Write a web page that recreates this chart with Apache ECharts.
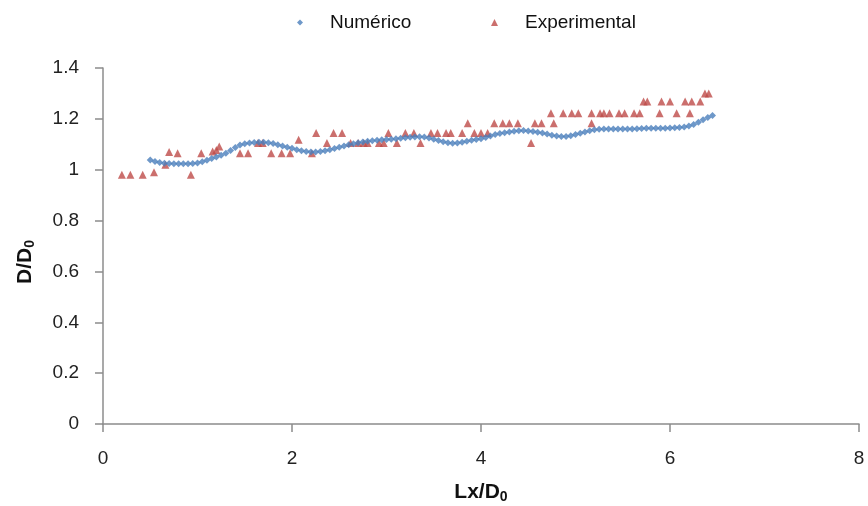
<!DOCTYPE html>
<html>
<head>
<meta charset="utf-8">
<script src="https://cdn.jsdelivr.net/npm/echarts@6/dist/echarts.min.js"></script>
<style>html,body{margin:0;padding:0;background:#fff}#c{width:868px;height:506px}</style>
</head>
<body>
<div id="c"></div>
<script>
var numX = [0.50,0.55,0.60,0.65,0.70,0.75,0.80,0.85,0.90,0.95,1.00,1.05,1.10,1.15,1.20,1.25,1.30,1.35,1.40,1.45,1.50,1.55,1.60,1.65,1.70,1.75,1.80,1.85,1.90,1.95,2.00,2.05,2.10,2.15,2.20,2.25,2.30,2.35,2.40,2.45,2.50,2.55,2.60,2.65,2.70,2.75,2.80,2.85,2.90,2.95,3.00,3.05,3.10,3.15,3.20,3.25,3.30,3.35,3.40,3.45,3.50,3.55,3.60,3.65,3.70,3.75,3.80,3.85,3.90,3.95,4.00,4.05,4.10,4.15,4.20,4.25,4.30,4.35,4.40,4.45,4.50,4.55,4.60,4.65,4.70,4.75,4.80,4.85,4.90,4.95,5.00,5.05,5.10,5.15,5.20,5.25,5.30,5.35,5.40,5.45,5.50,5.55,5.60,5.65,5.70,5.75,5.80,5.85,5.90,5.95,6.00,6.05,6.10,6.15,6.20,6.25,6.30,6.35,6.40,6.45];
var numY = [1.038,1.032,1.028,1.025,1.024,1.023,1.023,1.023,1.023,1.024,1.026,1.031,1.037,1.044,1.050,1.057,1.065,1.076,1.087,1.097,1.102,1.105,1.107,1.108,1.108,1.106,1.103,1.098,1.093,1.088,1.084,1.079,1.075,1.072,1.070,1.070,1.072,1.075,1.079,1.083,1.088,1.093,1.098,1.102,1.106,1.109,1.112,1.114,1.116,1.118,1.119,1.120,1.122,1.124,1.126,1.128,1.129,1.130,1.129,1.125,1.120,1.115,1.110,1.106,1.104,1.105,1.108,1.112,1.116,1.119,1.122,1.127,1.133,1.138,1.142,1.145,1.148,1.151,1.153,1.154,1.152,1.150,1.147,1.144,1.140,1.136,1.133,1.131,1.131,1.134,1.138,1.143,1.148,1.153,1.157,1.159,1.160,1.160,1.160,1.160,1.160,1.160,1.160,1.161,1.162,1.163,1.163,1.163,1.163,1.163,1.164,1.165,1.166,1.168,1.172,1.178,1.187,1.196,1.205,1.213];
var expX = [0.20,0.29,0.42,0.54,0.66,0.70,0.79,0.93,1.04,1.16,1.20,1.23,1.45,1.535,1.64,1.69,1.78,1.89,1.98,2.07,2.21,2.255,2.37,2.44,2.53,2.62,2.70,2.76,2.80,2.92,2.97,3.02,3.11,3.20,3.29,3.36,3.47,3.54,3.63,3.68,3.80,3.86,3.93,4.00,4.07,4.14,4.23,4.30,4.39,4.53,4.57,4.64,4.74,4.77,4.87,4.96,5.03,5.17,5.17,5.26,5.30,5.36,5.46,5.52,5.62,5.68,5.72,5.76,5.89,5.91,6.00,6.07,6.16,6.21,6.23,6.32,6.37,6.41];
var expY = [0.98,0.98,0.98,0.99,1.02,1.07,1.065,0.98,1.065,1.072,1.078,1.091,1.065,1.065,1.105,1.105,1.065,1.065,1.065,1.118,1.065,1.144,1.105,1.144,1.144,1.105,1.105,1.105,1.105,1.105,1.105,1.144,1.105,1.144,1.144,1.105,1.144,1.144,1.144,1.144,1.144,1.183,1.144,1.144,1.144,1.183,1.183,1.183,1.183,1.105,1.183,1.183,1.222,1.183,1.222,1.222,1.222,1.183,1.222,1.222,1.222,1.222,1.222,1.222,1.222,1.222,1.268,1.268,1.222,1.268,1.268,1.222,1.268,1.222,1.268,1.268,1.30,1.30];
var seriesNames = ['Numérico', 'Experimental'];
var xTicks = [0, 2, 4, 6, 8];
var yTicks = [0, 0.2, 0.4, 0.6, 0.8, 1, 1.2, 1.4];

function pairs(xs, ys) { return xs.map(function (x, i) { return [x, ys[i]]; }); }

var chart = echarts.init(document.getElementById('c'), null, {renderer: 'canvas'});
var font = '"Liberation Sans", Arial, sans-serif';
var legendText = {fontSize: 19, color: '#111', fontFamily: font, padding: [0, 0, 0, 22]};
chart.setOption({
  animation: false,
  textStyle: {fontFamily: font},
  legend: [
    {data: [{name: seriesNames[0], icon: 'diamond'}], left: 292, top: 8, itemWidth: 6, itemHeight: 6,
     textStyle: legendText},
    {data: [{name: seriesNames[1], icon: 'triangle'}], left: 486, top: 8, itemWidth: 7, itemHeight: 7,
     textStyle: legendText}
  ],
  grid: {left: 103, right: 9, top: 68, bottom: 82, containLabel: false, outerBoundsMode: 'none'},
  xAxis: {
    type: 'value', min: xTicks[0], max: xTicks[xTicks.length - 1], interval: 2,
    name: 'Lx/D{s|0}', nameLocation: 'middle', nameGap: 56,
    nameTextStyle: {fontSize: 21, fontWeight: 'bold', color: '#111',
      rich: {s: {fontSize: 14, fontWeight: 'bold', color: '#111', padding: [10, 0, 0, 0]}}},
    axisLine: {lineStyle: {color: '#8c8c8c', width: 1.5}},
    axisTick: {show: true, length: 8, lineStyle: {color: '#8c8c8c', width: 1.5}},
    axisLabel: {fontSize: 19, color: '#222', margin: 25},
    splitLine: {show: false}
  },
  yAxis: {
    type: 'value', min: yTicks[0], max: yTicks[yTicks.length - 1], interval: 0.2,
    name: 'D/D{s|0}', nameLocation: 'middle', nameGap: 66, nameRotate: 90,
    nameTextStyle: {fontSize: 21, fontWeight: 'bold', color: '#111', padding: [0, 32, 0, 0],
      rich: {s: {fontSize: 14, fontWeight: 'bold', color: '#111', padding: [10, 0, 0, 0]}}},
    axisLine: {show: true, lineStyle: {color: '#8c8c8c', width: 1.5}},
    axisTick: {show: true, length: 8, lineStyle: {color: '#8c8c8c', width: 1.5}},
    axisLabel: {fontSize: 19, color: '#222', margin: 24,
      formatter: function (v) { return String(Math.round(v * 10) / 10); }},
    splitLine: {show: false}
  },
  series: [
    {name: seriesNames[0], type: 'scatter', symbol: 'diamond', symbolSize: 7,
     itemStyle: {color: '#4a7ebb'}, data: pairs(numX, numY), z: 3},
    {name: seriesNames[1], type: 'scatter', symbol: 'triangle', symbolSize: 8,
     itemStyle: {color: '#be4b48'}, data: pairs(expX, expY), z: 2}
  ]
});
</script>
</body>
</html>
